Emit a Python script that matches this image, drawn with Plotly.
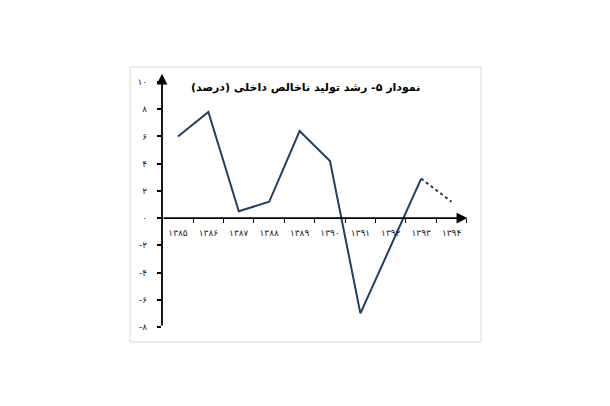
import plotly.graph_objects as go

years = ["۱۳۸۵", "۱۳۸۶", "۱۳۸۷", "۱۳۸۸", "۱۳۸۹", "۱۳۹۰", "۱۳۹۱", "۱۳۹۲", "۱۳۹۳", "۱۳۹۴"]
growth = [6.0, 7.8, 0.5, 1.2, 6.4, 4.2, -7.0, -2.0, 2.9, 1.2]
solid_n = 9  # 1385..1393 solid, 1393->1394 dotted (estimate)
y_ticks = [10, 8, 6, 4, 2, 0, -2, -4, -6, -8]
y_tick_labels = ["۱۰", "۸", "۶", "۴", "۲", "۰", "-۲", "-۴", "-۶", "-۸"]
title_text = "نمودار ۵- رشد تولید ناخالص داخلی (درصد)"

OFF = 8  # default page body margin
W, H = 610, 406
L, R, T, B = 162 - OFF, 142 + OFF, 73 - OFF, 79 + OFF
pw, ph = W - L - R, H - T - B
x_rng = [-0.526, 9.54]
y_rng = [-8, 10.66]

def px_x(px):
    return (px - OFF - L) / pw

def px_y(py):
    return (H - B - (py - OFF)) / ph

color = "#1f3f63"

fig = go.Figure()
fig.add_trace(go.Scatter(x=years[:solid_n], y=growth[:solid_n], mode="lines",
                         line=dict(color=color, width=2), showlegend=False))
fig.add_trace(go.Scatter(x=years[solid_n - 1:], y=growth[solid_n - 1:], mode="lines",
                         line=dict(color=color, width=2, dash="dot"), showlegend=False))

zero_pos = (0 - y_rng[0]) / (y_rng[1] - y_rng[0])

fig.update_layout(
    width=W, height=H,
    margin=dict(l=L, r=R, t=T, b=B),
    paper_bgcolor="white", plot_bgcolor="white",
    font=dict(family="DejaVu Sans", size=9, color="#222"),
    xaxis=dict(type="category", range=x_rng, showgrid=False, zeroline=False, showline=False,
               tickson="boundaries", ticks="outside", ticklen=4, tickcolor="black", tickwidth=1,
               anchor="free", position=zero_pos, ticklabelstandoff=8,
               tickfont=dict(size=9, color="#222")),
    yaxis=dict(range=y_rng, showgrid=False, zeroline=False, showline=False,
               tickmode="array", tickvals=y_ticks, ticktext=y_tick_labels,
               ticks="outside", ticklen=4, tickcolor="black", tickwidth=1.5,
               ticklabelstandoff=8, tickfont=dict(size=9, color="#222")),
    shapes=[dict(type="rect", xref="paper", yref="paper",
                 x0=px_x(130), x1=px_x(481), y0=px_y(342), y1=px_y(67),
                 line=dict(color="#d9d9d9", width=1), fillcolor="rgba(0,0,0,0)", layer="below")],
    annotations=[
        dict(x=x_rng[0], y=y_rng[1] - 0.05, ax=x_rng[0], ay=y_rng[0], xref="x", yref="y",
             axref="x", ayref="y", showarrow=True, arrowhead=2, arrowsize=1.2, arrowwidth=1.8,
             arrowcolor="black", text=""),
        dict(x=x_rng[1] - 0.02, y=0, ax=x_rng[0], ay=0, xref="x", yref="y",
             axref="x", ayref="y", showarrow=True, arrowhead=2, arrowsize=1.2, arrowwidth=1.8,
             arrowcolor="black", text=""),
        dict(x=px_x(305), y=px_y(87), xref="paper", yref="paper", showarrow=False,
             text="<b>" + title_text + "</b>", font=dict(family="DejaVu Sans", size=11, color="black"),
             xanchor="center", yanchor="middle"),
    ],
)

fig.write_html("out.html")
